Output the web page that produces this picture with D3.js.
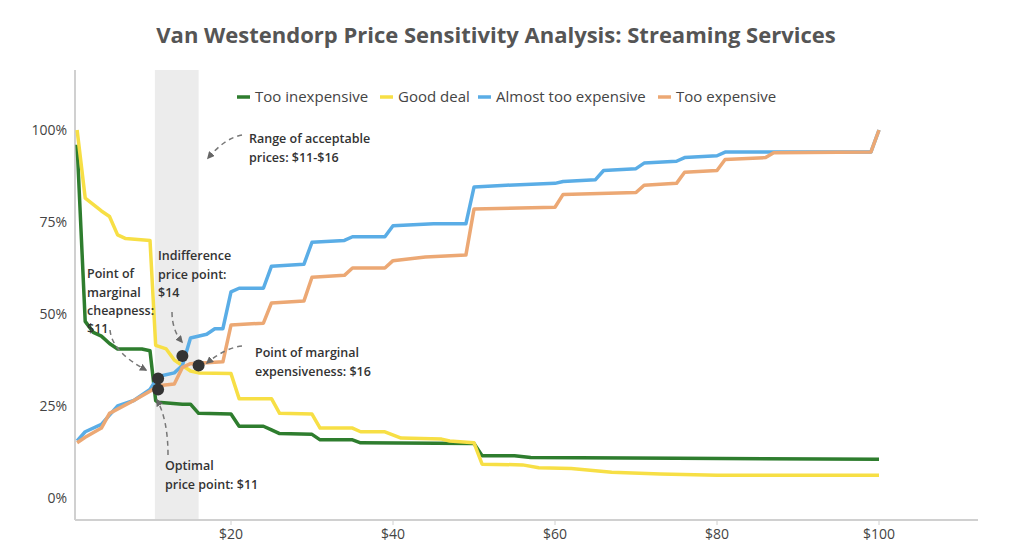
<!DOCTYPE html>
<html>
<head>
<meta charset="utf-8">
<script src="https://cdn.jsdelivr.net/npm/d3@7"></script>
<style>
  body { margin: 0; background: #fff; font-family: "Open Sans", sans-serif; }
</style>
</head>
<body>
<svg id="chart" width="1024" height="554"></svg>
<script>
// breakpoints: [price $, share %]
const tooInexpensive = [[1,96],[2,48],[3,45],[4,44],[5,42],[6,40.5],[9,40.5],[10,40],[10.7,26.5],[11,26],[14,25.5],[15,25.5],[16,23],[20,22.8],[21,19.5],[24,19.5],[25,18.5],[26,17.5],[30,17.3],[31,15.8],[35,15.8],[36,15],[50,14.8],[51,11.5],[55,11.5],[57,11],[75,10.8],[100,10.5]];
const goodDeal = [[1,100],[2,81.5],[4,78],[5,76.5],[6,71.5],[7,70.5],[10,70],[10.7,41.5],[12,40.5],[13,37.5],[15,34.5],[16,34],[20,33.8],[21,27],[25,27],[26,23],[30,22.8],[31,19],[35,19],[36,18],[39,18],[41,16.3],[46,16],[47,15.5],[50,15],[51,9.2],[56,9],[58,8.2],[62,8],[67,7],[73,6.5],[80,6.2],[100,6.2]];
const almostTooExpensive = [[1,15.5],[2,18],[4,20],[5,22.5],[6,25],[8,26.5],[10,29.5],[11,33],[13,34],[14,36],[15,43.5],[17,44.5],[18,46],[19,46],[20,56],[21,57],[24,57],[25,63],[29,63.5],[30,69.5],[34,70],[35,71],[39,71],[40,74],[45,74.5],[49,74.5],[50,84.5],[54,85],[60,85.5],[61,86],[65,86.5],[66,89],[70,89.5],[71,91],[75,91.5],[76,92.5],[80,93],[81,94],[99,94],[100,100]];
const tooExpensive = [[1,15],[2,16.5],[4,19],[5,23],[8,26.5],[10,29],[11,30.5],[13,31],[14,35.5],[15,36.5],[19,37],[20,47],[24,47.5],[25,53],[29,53.5],[30,60],[34,60.5],[35,62.5],[39,62.5],[40,64.5],[44,65.5],[49,66],[50,78.5],[60,79],[61,82.5],[70,83],[71,85],[75,85.5],[76,88.5],[80,89],[81,92],[86,92.5],[87,93.8],[99,94],[100,100]];

const seriesNames = ["Too inexpensive", "Good deal", "Almost too expensive", "Too expensive"];
const seriesColors = ["#2e7d2e", "#f7df45", "#5aade6", "#eca874"];
const seriesData = [tooInexpensive, goodDeal, almostTooExpensive, tooExpensive];

const xTicks = [20, 40, 60, 80, 100];
const yTicks = [0, 25, 50, 75, 100];
const acceptableRange = [10.6, 16];
const keyPoints = [[11, 32.5], [11, 29.5], [14, 38.6], [16, 36]];

const svg = d3.select("#chart");
const x = d3.scaleLinear().domain([0, 100]).range([69, 879]);
const y = d3.scaleLinear().domain([0, 100]).range([498, 130]);
const plotLeft = 75, plotRight = 978, plotBottom = 520, plotTop = 70;

svg.append("text")
    .attr("x", 496).attr("y", 43)
    .attr("text-anchor", "middle")
    .style("font-size", "22px").style("font-weight", "bold").style("fill", "#555")
    .text("Van Westendorp Price Sensitivity Analysis: Streaming Services");

// shaded acceptable range
svg.append("rect")
    .attr("x", x(acceptableRange[0])).attr("y", plotTop)
    .attr("width", x(acceptableRange[1]) - x(acceptableRange[0]))
    .attr("height", plotBottom - plotTop)
    .attr("fill", "#ececec");

// axes
svg.append("line").attr("x1", plotLeft).attr("x2", plotLeft).attr("y1", plotTop).attr("y2", plotBottom)
    .attr("stroke", "#d0d0d0").attr("stroke-width", 2);
svg.append("line").attr("x1", plotLeft).attr("x2", plotRight).attr("y1", plotBottom).attr("y2", plotBottom)
    .attr("stroke", "#d0d0d0").attr("stroke-width", 2);

xTicks.forEach(t => {
    svg.append("line").attr("x1", x(t)).attr("x2", x(t)).attr("y1", plotBottom).attr("y2", plotBottom + 5)
        .attr("stroke", "#d0d0d0");
    svg.append("text").attr("x", x(t)).attr("y", plotBottom + 9).attr("dy", "0.71em")
        .attr("text-anchor", "middle").style("font-size", "14px").style("fill", "#444")
        .text("$" + t);
});
yTicks.forEach(t => {
    svg.append("text").attr("x", 67).attr("y", y(t)).attr("dy", "0.35em")
        .attr("text-anchor", "end").style("font-size", "14px").style("fill", "#444")
        .text(t + "%");
});

// lines
const line = d3.line().x(d => x(d[0])).y(d => y(d[1]));
seriesData.forEach((s, i) => {
    svg.append("path").datum(s)
        .attr("d", line)
        .attr("fill", "none")
        .attr("stroke", seriesColors[i])
        .attr("stroke-width", 3.5)
        .attr("stroke-linejoin", "round");
});

// key points
svg.selectAll("circle.key").data(keyPoints).join("circle")
    .attr("class", "key")
    .attr("cx", d => x(d[0])).attr("cy", d => y(d[1]))
    .attr("r", 6).attr("fill", "#333");

// legend
const legendX = [237, 380, 478, 658];
seriesNames.forEach((n, i) => {
    svg.append("line").attr("x1", legendX[i]).attr("x2", legendX[i] + 13)
        .attr("y1", 97).attr("y2", 97)
        .attr("stroke", seriesColors[i]).attr("stroke-width", 3.5);
    svg.append("text").attr("x", legendX[i] + 18).attr("y", 97).attr("dy", "0.35em")
        .style("font-size", "15px").style("fill", "#444").text(n);
});

// annotations
const defs = svg.append("defs");
defs.append("marker").attr("id", "arrow")
    .attr("viewBox", "0 0 10 10").attr("refX", 8).attr("refY", 5)
    .attr("markerWidth", 5).attr("markerHeight", 5).attr("orient", "auto")
    .append("path").attr("d", "M0,0L10,5L0,10Z").attr("fill", "#666");

const notes = [
    { lines: ["Range of acceptable", "prices: $11-$16"], tx: 249, ty: 139, path: "M242,135 Q225,138 208,158" },
    { lines: ["Indifference", "price point:", "$14"], tx: 158, ty: 256, path: "M172,312 Q172,330 182,342" },
    { lines: ["Point of", "marginal", "cheapness:", "$11"], tx: 87, ty: 274, path: "M110,330 Q112,352 146,370" },
    { lines: ["Point of marginal", "expensiveness: $16"], tx: 255, ty: 353, path: "M242,346 Q225,348 207,363" },
    { lines: ["Optimal", "price point: $11"], tx: 165, ty: 466, path: "M168,455 Q168,420 157,400" }
];
notes.forEach(nt => {
    svg.append("path").attr("d", nt.path).attr("fill", "none")
        .attr("stroke", "#777").attr("stroke-width", 1.5).attr("stroke-dasharray", "5,4")
        .attr("marker-end", "url(#arrow)");
    const t = svg.append("text").attr("x", nt.tx).attr("y", nt.ty)
        .style("font-size", "12.5px").style("font-weight", 600).style("fill", "#333");
    nt.lines.forEach((l, i) => {
        t.append("tspan").attr("x", nt.tx).attr("dy", i === 0 ? "0.35em" : "1.45em").text(l);
    });
});
</script>
</body>
</html>
